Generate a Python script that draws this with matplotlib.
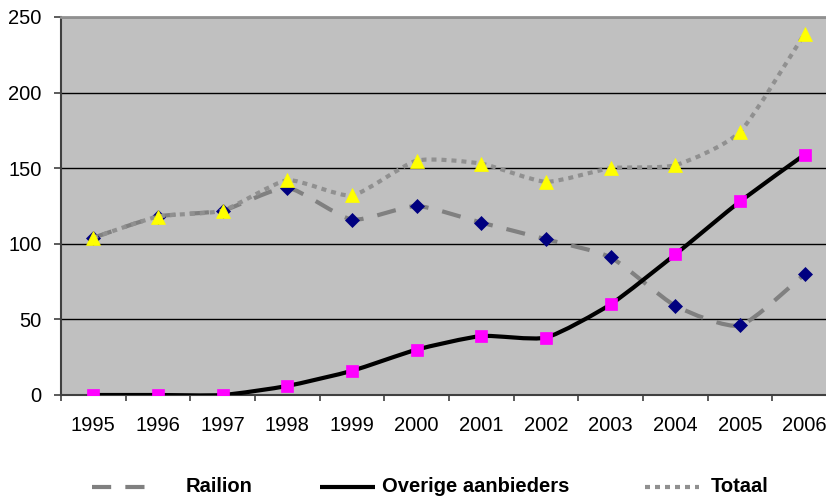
import numpy as np
import matplotlib
matplotlib.use('Agg')
import matplotlib.pyplot as plt
from matplotlib.path import Path
from matplotlib.patches import PathPatch
from matplotlib.lines import Line2D

plt.rcParams['font.family'] = ['Liberation Sans', 'DejaVu Sans']

years = ['1995', '1996', '1997', '1998', '1999', '2000',
         '2001', '2002', '2003', '2004', '2005', '2006']
railion = [104, 118, 122, 137, 116, 125, 114, 103, 91, 59, 46, 80]
overige = [0, 0, 0, 6, 16, 30, 39, 38, 60, 93, 128, 159]
totaal = [104, 118, 122, 142, 132, 155, 153, 141, 150, 152, 174, 239]
yticks = [0, 50, 100, 150, 200, 250]

W, H = 826, 497


def smooth_path(xs, ys, k=10.0):
    # mildly smoothed line (Excel style) as cubic bezier segments
    pts = np.column_stack([xs, ys]).astype(float)
    n = len(pts)
    verts = [pts[0]]
    codes = [Path.MOVETO]
    for i in range(n - 1):
        p0 = pts[max(i - 1, 0)]
        p1 = pts[i]
        p2 = pts[i + 1]
        p3 = pts[min(i + 2, n - 1)]
        c1 = p1 + (p2 - p0) / k
        c2 = p2 - (p3 - p1) / k
        verts += [c1, c2, p2]
        codes += [Path.CURVE4] * 3
    return Path(verts, codes)


fig = plt.figure(figsize=(W / 100, H / 100), dpi=100)
ax = fig.add_axes([61 / W, 102 / H, 776 / W, 378 / H])
ax.set_facecolor('#C0C0C0')

x = np.arange(len(years))

# dash patterns are in units of the line width
styles = [
    (railion, '#808080', (0, (4.6, 3.4)), 'D', '#000080', 7, 'Railion'),
    (overige, 'black', 'solid', 's', '#FF00FF', 8.5, 'Overige aanbieders'),
    (totaal, '#909090', (0, (1.2, 1.2)), '^', '#FFFF00', 9.5, 'Totaal'),
]

z = 3
for vals, lc, ls, mk, mc, ms, name in styles:
    patch = PathPatch(smooth_path(x, vals), fill=False, edgecolor=lc,
                      linewidth=3.0, linestyle=ls, capstyle='butt',
                      joinstyle='round', zorder=z)
    ax.add_patch(patch)
    ax.plot(x, vals, linestyle='none', marker=mk, markersize=ms,
            color=mc, markeredgecolor=mc, markeredgewidth=0.5, zorder=z + 0.5)
    z += 1

ax.set_xlim(-0.5, 11.5)
ax.set_ylim(0, 250)
ax.set_yticks(yticks)
ax.yaxis.grid(True, color='black', linewidth=1.0)
ax.set_axisbelow(True)

ax.set_xticks(np.arange(-0.5, 12, 1))
ax.set_xticklabels([])
ax.set_xticks(x, minor=True)
ax.set_xticklabels(years, minor=True)
ax.tick_params(axis='x', which='major', direction='out', length=4,
               width=1.2, color='#404040')
ax.tick_params(axis='x', which='minor', length=0, pad=15, labelsize=14.5)
ax.tick_params(axis='y', direction='out', length=5, width=1.2,
               color='#404040', pad=9, labelsize=14.5)

ax.spines['top'].set_color('#909090')
ax.spines['top'].set_linewidth(2)
ax.spines['right'].set_visible(False)
ax.spines['left'].set_color('#404040')
ax.spines['left'].set_linewidth(1.5)
ax.spines['bottom'].set_color('#404040')
ax.spines['bottom'].set_linewidth(1.5)

# legend under the chart
ly = 1 - 487 / H
legend_items = [
    (92, 146, 186, styles[0]),
    (320, 375, 382, styles[1]),
    (645, 699, 711, styles[2]),
]
for x0, x1, tx, st in legend_items:
    fig.add_artist(Line2D([x0 / W, x1 / W], [ly, ly], transform=fig.transFigure,
                          color=st[1], linewidth=3.0, linestyle=st[2],
                          solid_capstyle='butt', dash_capstyle='butt'))
    fig.text(tx / W, ly, st[6], fontsize=14.5, fontweight='bold',
             ha='left', va='center')

fig.savefig('out.png', dpi=100)
